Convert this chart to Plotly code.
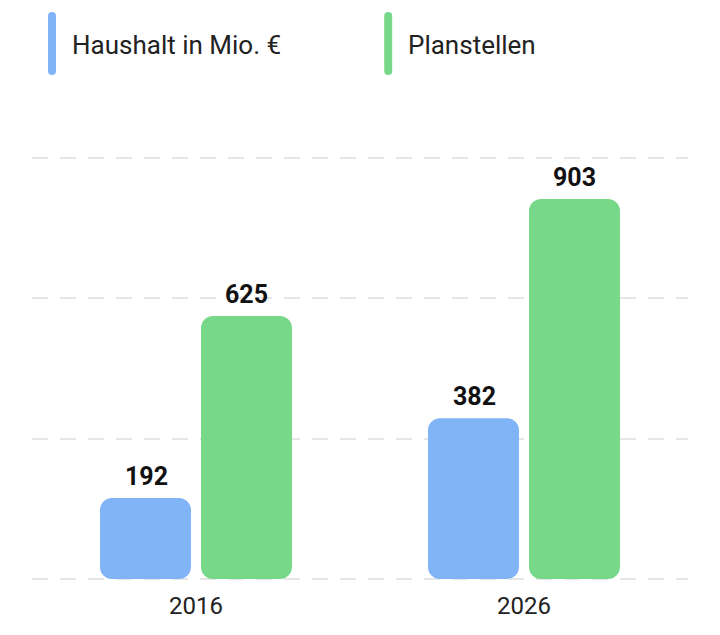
import plotly.graph_objects as go

years = ["2016", "2026"]
haushalt = [192, 382]
planstellen = [625, 903]
series_names = ["Haushalt in Mio. €", "Planstellen"]
colors = ["#80b4f7", "#77d889"]

y_max = 1000
grid_vals = [0, y_max / 3, 2 * y_max / 3, y_max]

bar_w = 0.2774
bar_off = [-0.2927, 0.0152]
label_shift = [-50, 50]

fig = go.Figure()

# base=0 makes plotly round both ends of each bar
for i, (name, vals) in enumerate(zip(series_names, [haushalt, planstellen])):
    fig.add_trace(go.Bar(
        x=years, y=vals, base=[0] * len(vals),
        width=bar_w, offset=bar_off[i],
        name=name, marker=dict(color=colors[i], line=dict(width=0), opacity=1),
        hoverinfo="skip", showlegend=False))
    for k, v in enumerate(vals):
        fig.add_annotation(x=k, y=v, text="<b>%d</b>" % v, showarrow=False,
                           xshift=label_shift[i], yshift=5, yanchor="bottom",
                           font=dict(family="Roboto", size=25, color="#111111"))

# legend drawn by hand: rounded vertical marker + label
legend_x = [0.0305, 0.543]
legend_y = 1.2647
for i, name in enumerate(series_names):
    fig.add_shape(type="path", xref="paper", yref="paper",
                  xsizemode="pixel", ysizemode="pixel",
                  xanchor=legend_x[i], yanchor=legend_y,
                  path="M -4,-27.5 Q -4,-31.5 0,-31.5 Q 4,-31.5 4,-27.5 L 4,27.5 "
                       "Q 4,31.5 0,31.5 Q -4,31.5 -4,27.5 Z",
                  fillcolor=colors[i], line=dict(width=0))
    fig.add_annotation(x=legend_x[i] + 0.0274, y=legend_y, xref="paper", yref="paper",
                       text=name, showarrow=False, xanchor="left", yanchor="middle",
                       yshift=-1,
                       font=dict(family="Roboto", size=26, color="#222222"))

# page body adds an 8px margin, so the figure is shrunk and shifted to compensate
fig.update_layout(
    width=712, height=627,
    margin=dict(l=24, r=32, t=148, b=54),
    paper_bgcolor="white", plot_bgcolor="white",
    barmode="overlay",
    barcornerradius=12,
    showlegend=False,
    font=dict(family="Roboto"),
)
fig.update_xaxes(type="category", range=[-0.5, 1.5], showline=False, ticks="",
                 showgrid=False, zeroline=False,
                 tickfont=dict(family="Roboto", size=24, color="#222222"),
                 ticklabelstandoff=8)
fig.update_yaxes(range=[-5, y_max + 5], tickvals=grid_vals, showticklabels=False,
                 showgrid=True, gridcolor="#e6e6e6", gridwidth=2, griddash="16px,12px",
                 zeroline=False, showline=False)

fig.write_html("out.html")
